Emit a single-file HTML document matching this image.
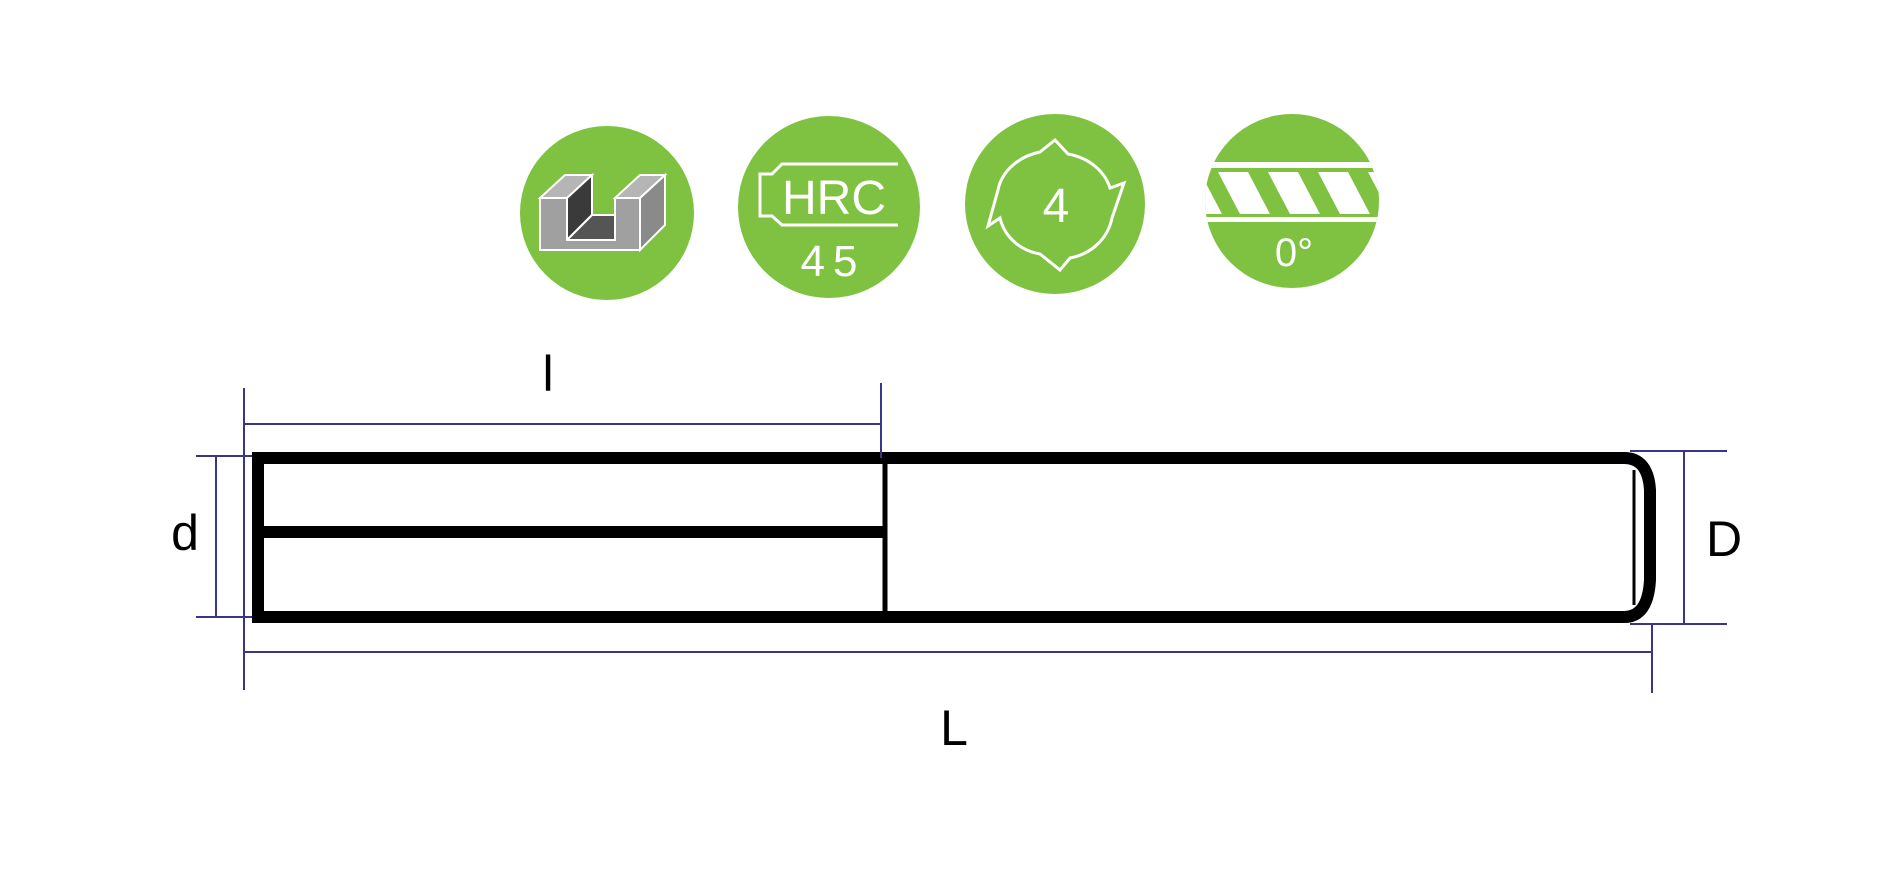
<!DOCTYPE html>
<html><head><style>
html,body{margin:0;padding:0;background:#fff;}
</style></head><body>
<svg width="1900" height="874" viewBox="0 0 1900 874" xmlns="http://www.w3.org/2000/svg" font-family="Liberation Sans, sans-serif">
<rect width="1900" height="874" fill="#fff"/>
<!-- icon 1 -->
<circle cx="607" cy="213" r="87" fill="#7fc241"/>
<g stroke="#fff" stroke-width="2">
<polygon points="540,198 565,175 592,175 567,198" fill="#b5b5b5"/>
<polygon points="567,198 592,175 592,215 567,240" fill="#3a3a3a"/>
<polygon points="567,240 592,215 640,215 615,240" fill="#555"/>
<polygon points="615,198 640,175 665,175 640,198" fill="#b5b5b5"/>
<polygon points="640,198 665,175 665,225 640,250" fill="#8a8a8a"/>
<polygon points="540,250 540,198 567,198 567,240 615,240 615,198 640,198 640,250" fill="#a0a0a0"/>
</g>
<!-- icon 2 -->
<circle cx="829" cy="207" r="91" fill="#7fc241"/>
<path d="M898,164 H782 L772,174 H760 V216 H772 L782,225 H898" fill="none" stroke="#fff" stroke-width="3"/>
<text x="834" y="214" fill="#fff" font-size="48" text-anchor="middle">HRC</text>
<text x="833" y="276" fill="#fff" font-size="44" text-anchor="middle" letter-spacing="8">45</text>
<!-- icon 3 -->
<circle cx="1055" cy="204" r="90" fill="#7fc241"/>
<path d="M1055,140 L1068,154 C1090,158 1105,172 1110,188 L1124,183 L1112,218 C1108,238 1092,254 1070,258 L1060,270 L1040,254 C1018,250 1004,235 1000,218 L988,226 L998,190 C1002,170 1020,156 1040,152 Z" fill="none" stroke="#fff" stroke-width="3"/>
<text x="1056" y="222" fill="#fff" font-size="48" text-anchor="middle">4</text>
<!-- icon 4 -->
<clipPath id="c4"><circle cx="1292" cy="201" r="87"/></clipPath>
<circle cx="1292" cy="201" r="87" fill="#7fc241"/>
<g clip-path="url(#c4)">
<rect x="1200" y="162" width="190" height="60" fill="#fff"/>
<g fill="#7fc241">
<polygon points="1200,172 1218,172 1240,214 1222,214"/>
<polygon points="1248,172 1268,172 1290,214 1270,214"/>
<polygon points="1298,172 1318,172 1340,214 1320,214"/>
<polygon points="1348,172 1368,172 1390,214 1370,214"/>
</g>
<rect x="1200" y="168" width="190" height="4" fill="#7fc241"/>
<rect x="1200" y="214" width="190" height="3" fill="#7fc241"/>
</g>
<text x="1294" y="266" fill="#fff" font-size="40" text-anchor="middle">0°</text>
<!-- drawing -->
<g fill="none" stroke="#000">
<path d="M258,458 H1624 Q1648,458 1650,490 V580 Q1648,617 1624,617 H258 Z" stroke-width="12"/>
<line x1="258" y1="532" x2="883" y2="532" stroke-width="12"/>
<line x1="885" y1="458" x2="885" y2="612" stroke-width="5"/>
<line x1="1634" y1="470" x2="1634" y2="605" stroke-width="3"/>
</g>
<g stroke="#3b3588" stroke-width="2" fill="none">
<line x1="244" y1="424" x2="881" y2="424"/>
<line x1="244" y1="388" x2="244" y2="690"/>
<line x1="881" y1="383" x2="881" y2="458"/>
<line x1="216" y1="456" x2="216" y2="617"/>
<line x1="196" y1="456" x2="252" y2="456"/>
<line x1="196" y1="617" x2="252" y2="617"/>
<line x1="1684" y1="451" x2="1684" y2="624"/>
<line x1="1630" y1="451" x2="1727" y2="451"/>
<line x1="1630" y1="624" x2="1727" y2="624"/>
<line x1="244" y1="652" x2="1652" y2="652"/>
<line x1="1652" y1="624" x2="1652" y2="693"/>
</g>
<g font-size="50" fill="#000" text-anchor="middle">
<text x="548" y="391">l</text>
<text x="185" y="550">d</text>
<text x="1724" y="556">D</text>
<text x="954" y="745">L</text>
</g>
</svg>
</body></html>
